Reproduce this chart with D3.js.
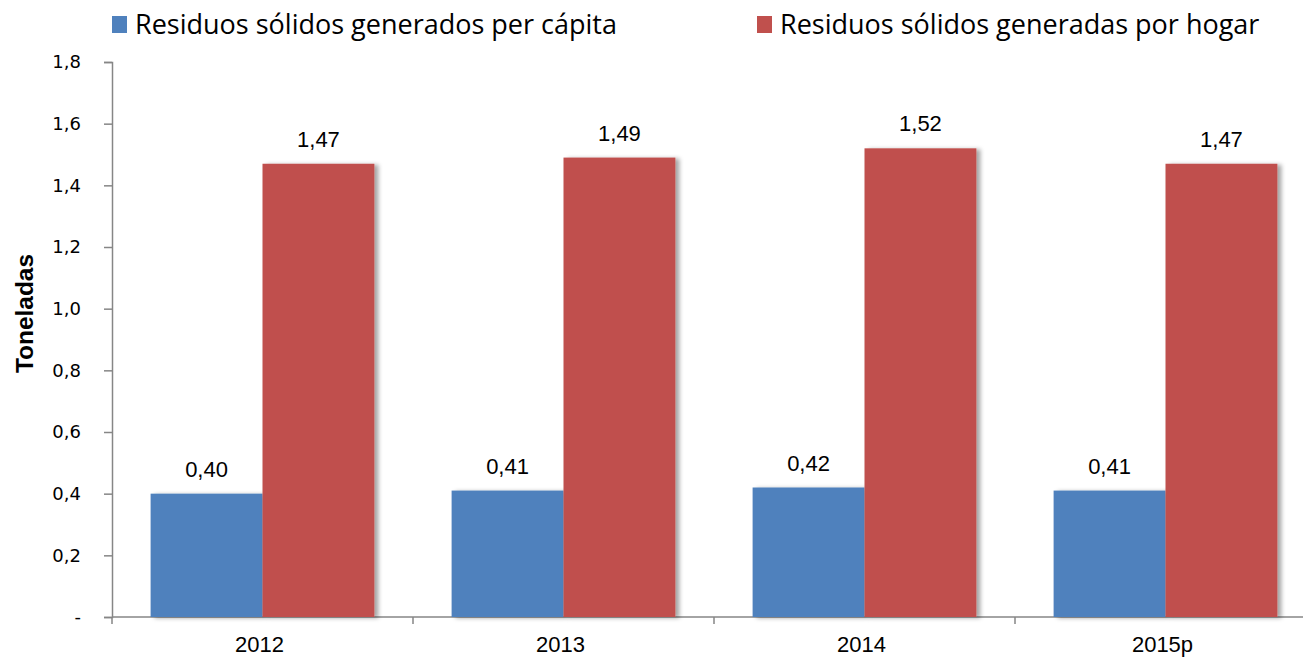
<!DOCTYPE html>
<html>
<head>
<meta charset="utf-8">
<script src="https://cdn.jsdelivr.net/npm/d3@7"></script>
<style>
  body { margin: 0; background: #fff; }
  svg { display: block; }
</style>
</head>
<body>
<div id="chart"></div>
<script>
// --------------------------------------
// Data
// --------------------------------------
const years = ["2012", "2013", "2014", "2015p"];
const seriesNames = ["Residuos sólidos generados per cápita", "Residuos sólidos generadas por hogar"];
const perCapita = [0.40, 0.41, 0.42, 0.41];
const perHogar = [1.47, 1.49, 1.52, 1.47];
const yTicks = [0, 0.2, 0.4, 0.6, 0.8, 1.0, 1.2, 1.4, 1.6, 1.8];
const colors = ["#4F81BD", "#C0504D"];

const width = 1303, height = 657;
const margin = { top: 62, right: -13, bottom: 40, left: 112 };

// --------------------------------------
// Canvas
// --------------------------------------
const svg = d3.select("#chart")
  .append("svg")
    .attr("width", width)
    .attr("height", height)
    .attr("viewBox", [0, 0, width, height]);

const defs = svg.append("defs");
defs.append("filter")
    .attr("id", "shadow")
    .attr("x", "-10%").attr("y", "-10%")
    .attr("width", "130%").attr("height", "120%")
  .append("feDropShadow")
    .attr("dx", 4).attr("dy", 1)
    .attr("stdDeviation", 2)
    .attr("flood-color", "#000")
    .attr("flood-opacity", 0.35);

// --------------------------------------
// Scales
// --------------------------------------
const x0 = d3.scaleBand(years, [margin.left, width - margin.right]).padding(0);
const x1 = d3.scaleBand([0, 1], [0, x0.bandwidth()]).paddingInner(0).paddingOuter(0.345);
const y = d3.scaleLinear([0, 1.8], [height - margin.bottom, margin.top]);

const rows = years.map((yr, i) => ({ year: yr, values: [perCapita[i], perHogar[i]] }));
const fmt = v => d3.format(".2f")(v).replace(".", ",");

// --------------------------------------
// Axes
// --------------------------------------
const yAxis = svg.append("g")
    .attr("transform", `translate(${margin.left},0)`)
    .call(d3.axisLeft(y)
      .tickValues(yTicks)
      .tickSize(8)
      .tickPadding(23)
      .tickFormat(d => d === 0 ? "-" : d3.format(".1f")(d).replace(".", ",")));
yAxis.selectAll("path, line").attr("stroke", "#868686").attr("stroke-width", 1.5);
yAxis.selectAll("text")
    .attr("font-family", "'DejaVu Sans', sans-serif")
    .attr("font-size", 18)
    .attr("fill", "#000");

const xAxis = svg.append("g")
    .attr("transform", `translate(0,${y(0)})`);
xAxis.append("line")
    .attr("x1", margin.left).attr("x2", width)
    .attr("stroke", "#868686").attr("stroke-width", 1.5);
xAxis.selectAll(".tick")
  .data(years)
  .join("line")
    .attr("x1", d => x0(d)).attr("x2", d => x0(d))
    .attr("y1", 0).attr("y2", 7)
    .attr("stroke", "#868686").attr("stroke-width", 1.5);
xAxis.selectAll(".lbl")
  .data(years)
  .join("text")
    .attr("x", d => x0(d) + x0.bandwidth() / 2 - 3)
    .attr("y", 35)
    .attr("text-anchor", "middle")
    .attr("font-family", "'Liberation Sans', Arial, sans-serif")
    .attr("font-size", 22)
    .text(d => d);

svg.append("text")
    .attr("transform", `translate(33,${(y(0) + y(1.8)) / 2 - 26}) rotate(-90)`)
    .attr("text-anchor", "middle")
    .attr("font-family", "'Liberation Sans', Arial, sans-serif")
    .attr("font-weight", "bold")
    .attr("font-size", 24)
    .attr("textLength", 119)
    .attr("lengthAdjust", "spacingAndGlyphs")
    .text("Toneladas");

// --------------------------------------
// Bars
// --------------------------------------
const groups = svg.append("g")
  .selectAll("g")
  .data(rows)
  .join("g")
    .attr("transform", d => `translate(${x0(d.year)},0)`);

groups.selectAll("rect")
  .data(d => d.values.map((v, k) => ({ k, v })))
  .join("rect")
    .attr("x", d => x1(d.k))
    .attr("y", d => y(d.v))
    .attr("width", x1.bandwidth())
    .attr("height", d => y(0) - y(d.v))
    .attr("fill", d => colors[d.k])
    .attr("filter", "url(#shadow)");

groups.selectAll("text")
  .data(d => d.values.map((v, k) => ({ k, v })))
  .join("text")
    .attr("x", d => x1(d.k) + x1.bandwidth() / 2)
    .attr("y", d => y(d.v) - 17)
    .attr("text-anchor", "middle")
    .attr("font-family", "'Liberation Sans', Arial, sans-serif")
    .attr("font-size", 22)
    .attr("fill", "#000")
    .text(d => fmt(d.v));

// --------------------------------------
// Legend
// --------------------------------------
const legendX = [112, 757];
const legend = svg.append("g")
  .selectAll("g")
  .data(seriesNames)
  .join("g")
    .attr("transform", (d, i) => `translate(${legendX[i]},0)`);
legend.append("rect")
    .attr("x", 0).attr("y", 16)
    .attr("width", 15).attr("height", 17)
    .attr("fill", (d, i) => colors[i]);
legend.append("text")
    .attr("x", 23).attr("y", 34)
    .attr("font-family", "'Open Sans', 'Noto Sans', sans-serif")
    .attr("font-size", 27)
    .attr("fill", "#000")
    .text(d => d);
</script>
</body>
</html>
